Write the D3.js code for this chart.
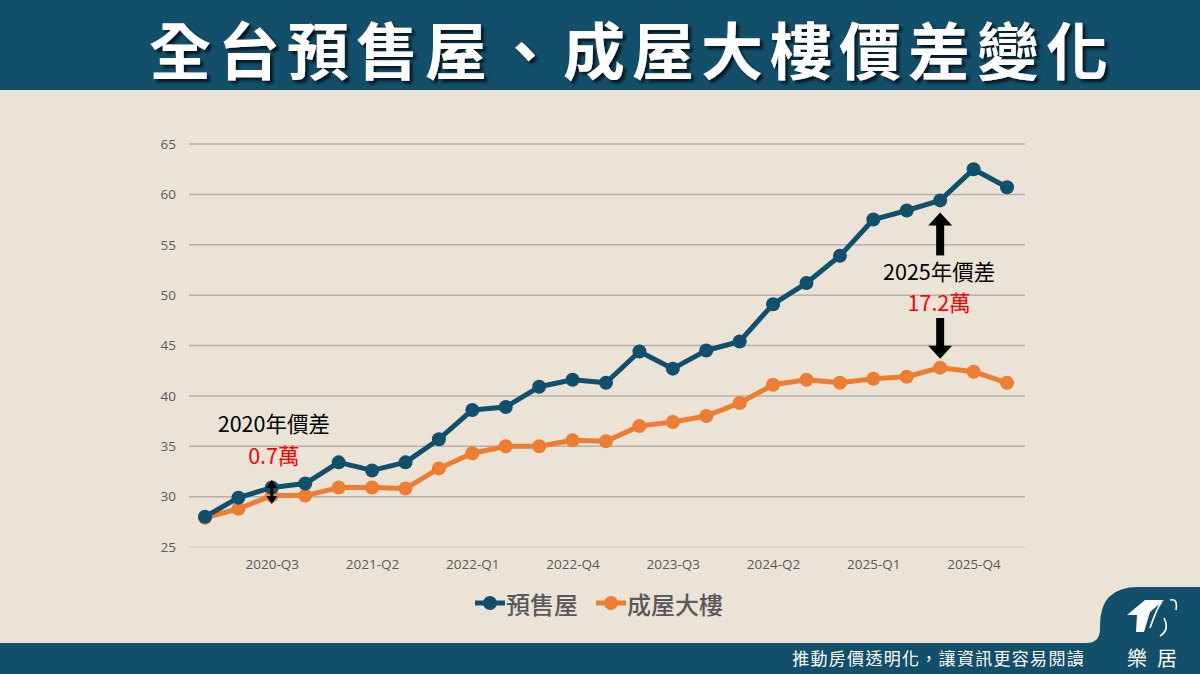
<!DOCTYPE html>
<html>
<head>
<meta charset="utf-8">
<script src="https://cdn.jsdelivr.net/npm/d3@7.9.0/dist/d3.min.js"></script>
<style>
  html, body { margin: 0; padding: 0; background: #ebe4d6; }
  svg { display: block; font-family: "Noto Sans CJK TC", "Noto Sans", sans-serif; }
</style>
</head>
<body>
<svg id="chart" width="1200" height="674"></svg>
<script>
// quarters 2020-Q1 .. 2026-Q1
const quarters = [];
for (let y = 2020; y <= 2026; y++) {
  for (let q = 1; q <= 4; q++) {
    if (y === 2026 && q > 1) break;
    quarters.push(`${y}-Q${q}`);
  }
}
// 預售屋 (萬/坪)
const presale = [28.0, 29.9, 30.9, 31.3, 33.4, 32.6, 33.4, 35.7, 38.6, 38.9, 40.9, 41.6, 41.3,
  44.4, 42.7, 44.5, 45.4, 49.1, 51.2, 53.9, 57.5, 58.4, 59.4, 62.5, 60.7];
// 成屋大樓 (萬/坪)
const resale = [27.9, 28.8, 30.1, 30.1, 30.9, 30.9, 30.8, 32.8, 34.3, 35.0, 35.0, 35.6, 35.5,
  37.0, 37.4, 38.0, 39.3, 41.1, 41.6, 41.3, 41.7, 41.9, 42.8, 42.4, 41.3];
const yTicks = [25, 30, 35, 40, 45, 50, 55, 60, 65];
const xTickLabels = ["2020-Q3", "2021-Q2", "2022-Q1", "2022-Q4", "2023-Q3", "2024-Q2", "2025-Q1", "2025-Q4"];

const series = [
  { name: "預售屋", values: presale, color: "#11506d" },
  { name: "成屋大樓", values: resale, color: "#ed7d31" }
];

const svg = d3.select('#chart');
const bg = "#ebe4d6";
const teal = "#124f6b";

svg.append('rect').attr('width', 1200).attr('height', 674).attr('fill', bg);

// header
svg.append('rect').attr('width', 1200).attr('height', 90).attr('fill', teal);
const defs = svg.append('defs');
const f = defs.append('filter').attr('id', 'shadow').attr('x', '-5%').attr('y', '-20%').attr('width', '110%').attr('height', '150%');
f.append('feDropShadow').attr('dx', 3).attr('dy', 3).attr('stdDeviation', 1.5)
  .attr('flood-color', '#000').attr('flood-opacity', 0.7);
svg.append('text')
  .attr('x', 632).attr('y', 48)
  .attr('text-anchor', 'middle').attr('dominant-baseline', 'central')
  .attr('fill', '#fff').attr('font-size', 62).attr('font-weight', 700)
  .attr('letter-spacing', 7)
  .attr('filter', 'url(#shadow)')
  .text('全台預售屋、成屋大樓價差變化');

// scales
const x = d3.scalePoint().domain(quarters).range([205, 1007]);
const y = d3.scaleLinear().domain([25, 65]).range([547, 144]);

// grid
svg.append('g').selectAll('line').data(yTicks).join('line')
  .attr('x1', 189).attr('x2', 1025)
  .attr('y1', d => y(d)).attr('y2', d => y(d))
  .attr('stroke', d => d === 25 ? '#d6cfcd' : '#b5aeae').attr('stroke-width', 1.5);

// y axis labels
const yAxis = svg.append('g').attr('transform', 'translate(176,0)')
  .call(d3.axisLeft(y).tickValues(yTicks).tickSize(0).tickPadding(0));
yAxis.select('.domain').remove();
yAxis.selectAll('text').attr('fill', '#595959').attr('font-size', 13.5)
  .attr('font-family', '"Open Sans", "Noto Sans", sans-serif');

// x axis labels
const xAxis = svg.append('g').attr('transform', 'translate(0,559)')
  .call(d3.axisBottom(x).tickValues(xTickLabels).tickSize(0).tickPadding(0));
xAxis.select('.domain').remove();
xAxis.selectAll('text').attr('fill', '#595959').attr('font-size', 13.5)
  .attr('font-family', '"Open Sans", "Noto Sans", sans-serif');

// lines
const line = d3.line().x((d, i) => x(quarters[i])).y(d => y(d));
series.slice().reverse().forEach(s => {
  const g = svg.append('g');
  g.append('path').attr('d', line(s.values)).attr('fill', 'none')
    .attr('stroke', s.color).attr('stroke-width', 5).attr('stroke-linejoin', 'round');
  g.selectAll('circle').data(s.values).join('circle')
    .attr('cx', (d, i) => x(quarters[i])).attr('cy', d => y(d)).attr('r', 7)
    .attr('fill', s.color);
});

// annotations
function arrowHead(g, xc, tipY, dir) {
  // dir -1 up, 1 down
  const hw = 12, hh = 13;
  g.append('path')
    .attr('d', `M${xc},${tipY} L${xc - hw},${tipY - dir * hh} L${xc + hw},${tipY - dir * hh} Z`)
    .attr('fill', '#000');
}
// two-line label: black year line + red value line
function gapLabel(g, cx, y0, top, bottom) {
  g.append('text').attr('x', cx).attr('y', y0).attr('text-anchor', 'middle')
    .attr('font-size', 21.5).attr('fill', '#000').text(top);
  g.append('text').attr('x', cx).attr('y', y0 + 31.5).attr('text-anchor', 'middle')
    .attr('font-size', 21.5).attr('fill', '#ff0000').text(bottom);
}
const ann = svg.append('g');
// 2025
const ax = x('2025-Q3');
ann.append('rect').attr('x', ax - 4).attr('y', y(presale[22]) + 24).attr('width', 8).attr('height', 31).attr('fill', '#000');
arrowHead(ann, ax, y(presale[22]) + 12, -1);
ann.append('rect').attr('x', ax - 4).attr('y', 318).attr('width', 8).attr('height', 30).attr('fill', '#000');
arrowHead(ann, ax, y(resale[22]) - 9, 1);
gapLabel(ann, ax - 1, 279.5, '2025年價差', '17.2萬');

// 2020
const bx = x('2020-Q3');
gapLabel(ann, bx + 2, 432, '2020年價差', '0.7萬');
ann.append('line').attr('x1', bx).attr('x2', bx).attr('y1', 486).attr('y2', 498)
  .attr('stroke', '#000').attr('stroke-width', 2.8);
ann.append('path').attr('d', `M${bx},480 L${bx - 5.5},488 L${bx + 5.5},488 Z`).attr('fill', '#000');
ann.append('path').attr('d', `M${bx},504 L${bx - 5.5},496 L${bx + 5.5},496 Z`).attr('fill', '#000');

// legend
const legend = svg.append('g').attr('transform', 'translate(475,603)');
let lx = 0;
series.forEach(s => {
  const g = legend.append('g').attr('transform', `translate(${lx},0)`);
  g.append('line').attr('x1', 0).attr('x2', 30).attr('stroke', s.color).attr('stroke-width', 5);
  g.append('circle').attr('cx', 15).attr('r', 7).attr('fill', s.color);
  const t = g.append('text').attr('x', 31).attr('dominant-baseline', 'central')
    .attr('font-size', 24).attr('font-weight', 500).attr('fill', '#595959').text(s.name);
  lx += 31 + t.node().getComputedTextLength() + 18;
});

// footer
svg.append('rect').attr('x', 0).attr('y', 643).attr('width', 1200).attr('height', 31).attr('fill', teal);
// logo tab
svg.append('path')
  .attr('d', 'M1086,643 Q1100,643 1100,629 L1100,625 Q1100,587 1138,587 L1200,587 L1200,674 L1086,674 Z')
  .attr('fill', teal);
svg.append('text').attr('x', 1085).attr('y', 665).attr('text-anchor', 'end')
  .attr('font-size', 17).attr('fill', '#fff').attr('letter-spacing', 1.3)
  .text('推動房價透明化，讓資訊更容易閱讀');
// logo mark
const logo = svg.append('g').attr('fill', '#fff');
logo.append('path').attr('d', 'M1127,615 L1145,600 L1164,600 L1150,612 L1144,632 L1136,632 L1137,615 Z');
logo.append('path').attr('d', 'M1150,628 Q1158,605 1162,602 M1164,618 Q1170,630 1160,636 M1170,600 Q1178,598 1176,610')
  .attr('fill', 'none').attr('stroke', '#fff').attr('stroke-width', 1.6);
logo.append('text').attr('x', 1127).attr('y', 666).attr('font-size', 20)
  .attr('letter-spacing', 10).text('樂居');
</script>
</body>
</html>
